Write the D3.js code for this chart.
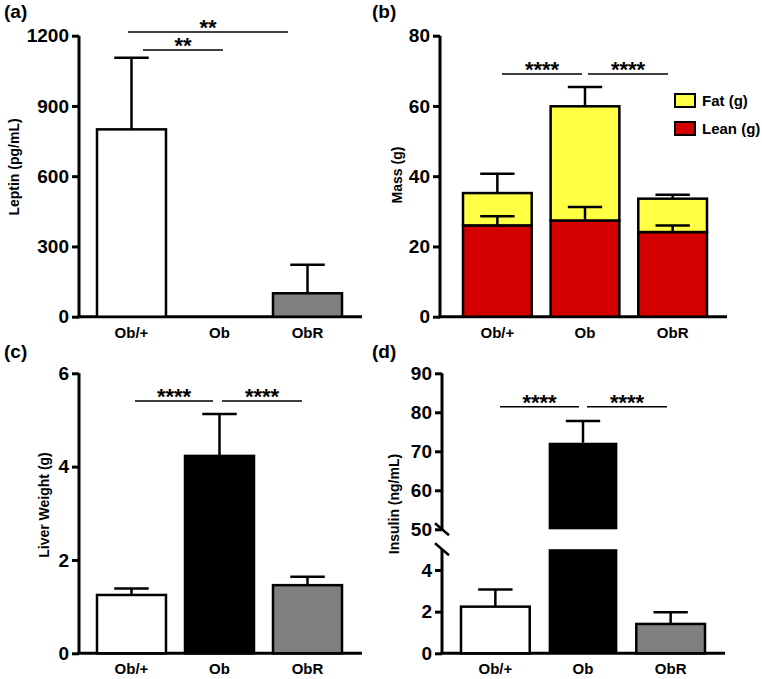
<!DOCTYPE html>
<html>
<head>
<meta charset="utf-8">
<script src="https://cdn.jsdelivr.net/npm/d3@7"></script>
<style>
  html, body { margin: 0; padding: 0; background: #fff; }
  svg { display: block; }
  text { font-family: "Liberation Sans", Arial, sans-serif; font-weight: bold; fill: #000; }
</style>
</head>
<body>
<svg id="chart" width="762" height="679"></svg>
<script>
// ---------------- DATA ----------------
const categories = ["Ob/+", "Ob", "ObR"];
const barFills = ["#ffffff", "#000000", "#808080"];

// (a) Leptin
const leptinMean = [800, 0, 100];
const leptinErr = [306, 0, 122];
const leptinTicks = [0, 300, 600, 900, 1200];

// (b) Mass (stacked)
const leanMean = [26.0, 27.4, 24.1];
const leanErr = [2.6, 3.8, 1.9];
const fatMean = [9.2, 32.5, 9.5];
const fatErr = [5.5, 5.5, 1.1];
const massTicks = [0, 20, 40, 60, 80];
const massSeries = ["Fat (g)", "Lean (g)"];
const massColors = ["#ffff44", "#d40000"];

// (c) Liver weight
const liverMean = [1.25, 4.23, 1.46];
const liverErr = [0.14, 0.90, 0.18];
const liverTicks = [0, 2, 4, 6];

// (d) Insulin (broken axis)
const insulinMean = [2.24, 72.2, 1.41];
const insulinErr = [0.83, 5.6, 0.56];
const insulinTicksLow = [0, 2, 4];
const insulinTicksHigh = [50, 60, 70, 80, 90];

// ---------------- DRAW ----------------
const svg = d3.select("#chart");
const AXW = 3;

function styleAxis(g) {
  g.select(".domain").remove();
  g.selectAll(".tick line").attr("stroke", "#000").attr("stroke-width", AXW);
  g.selectAll(".tick text").style("font-size", "19px").attr("fill", "#000");
}

function panel(opt) {
  const g = svg.append("g");
  const x = d3.scaleBand().domain(categories).range(opt.xr).paddingInner(0.216).paddingOuter(0);
  opt.yScales.forEach((s, i) => {
    g.append("g").attr("transform", `translate(${opt.ax},0)`)
      .call(d3.axisLeft(s.scale).tickValues(s.ticks).tickFormat(d3.format("d"))
        .tickSize(7).tickPadding(3).tickSizeOuter(0))
      .call(styleAxis);
    const r = s.scale.range();
    g.append("line").attr("x1", opt.ax).attr("x2", opt.ax)
      .attr("y1", r[0]).attr("y2", r[1])
      .attr("stroke", "#000").attr("stroke-width", AXW);
  });
  // x axis
  g.append("line").attr("x1", opt.ax - AXW / 2).attr("x2", opt.axEnd)
    .attr("y1", opt.y0).attr("y2", opt.y0).attr("stroke", "#000").attr("stroke-width", AXW);
  // x labels
  g.selectAll(".xl").data(categories).join("text")
    .attr("x", d => x(d) + x.bandwidth() / 2).attr("y", opt.y0 + 21)
    .attr("text-anchor", "middle").style("font-size", "15px").text(d => d);
  // y title
  g.append("text").attr("transform", `translate(${opt.tx},${opt.ty}) rotate(-90)`)
    .attr("text-anchor", "middle").attr("dy", "0.35em").style("font-size", "14px").text(opt.title);
  // panel label
  g.append("text").attr("x", opt.lx).attr("y", opt.ly).style("font-size", "19px").text(opt.label);
  // significance
  opt.sig.forEach(s => {
    g.append("line").attr("x1", s.x1).attr("x2", s.x2).attr("y1", s.y).attr("y2", s.y)
      .attr("stroke", "#000").attr("stroke-width", 1.5);
    g.append("text").attr("x", (s.x1 + s.x2) / 2).attr("y", s.y + 3)
      .attr("text-anchor", "middle").style("font-size", "22px").text(s.t);
  });
  return { g, x };
}

function errBar(g, cx, yBase, yTop, half) {
  g.append("line").attr("x1", cx).attr("x2", cx).attr("y1", yBase).attr("y2", yTop)
    .attr("stroke", "#000").attr("stroke-width", 2.5);
  g.append("line").attr("x1", cx - half).attr("x2", cx + half).attr("y1", yTop).attr("y2", yTop)
    .attr("stroke", "#000").attr("stroke-width", 2.5);
}

function simpleBars(p, y, mean, err) {
  const { g, x } = p;
  const bw = x.bandwidth();
  categories.forEach((c, i) => {
    if (err[i] > 0) errBar(g, x(c) + bw / 2, y(mean[i]), y(mean[i] + err[i]), bw / 4);
  });
  g.selectAll(".bar").data(categories).join("rect")
    .attr("x", d => x(d)).attr("width", bw)
    .attr("y", (d, i) => y(mean[i])).attr("height", (d, i) => y(0) - y(mean[i]))
    .attr("fill", (d, i) => barFills[i]).attr("stroke", "#000").attr("stroke-width", 2.5)
    .attr("display", (d, i) => mean[i] > 0 ? null : "none");
}

// ---- (a)
{
  const y = d3.scaleLinear().domain([0, 1200]).range([316.7, 35.7]);
  const p = panel({ xr: [97, 342], ax: 79, axEnd: 362, y0: 316.7,
    yScales: [{ scale: y, ticks: leptinTicks }],
    title: "Leptin (pg/mL)", tx: 14, ty: 167, label: "(a)", lx: 4, ly: 18,
    sig: [{ x1: 128, x2: 288, y: 32, t: "**" }, { x1: 143, x2: 223, y: 50, t: "**" }] });
  simpleBars(p, y, leptinMean, leptinErr);
}

// ---- (b)
{
  const y = d3.scaleLinear().domain([0, 80]).range([316.7, 35.7]);
  const p = panel({ xr: [463, 707], ax: 440, axEnd: 727, y0: 316.7,
    yScales: [{ scale: y, ticks: massTicks }],
    title: "Mass (g)", tx: 397, ty: 175, label: "(b)", lx: 372, ly: 18,
    sig: [{ x1: 502, x2: 582, y: 74, t: "****" }, { x1: 588, x2: 668, y: 74, t: "****" }] });
  const { g, x } = p;
  const bw = x.bandwidth();
  const stackData = categories.map((c, i) => ({ cat: c, lean: leanMean[i], fat: fatMean[i] }));
  const stack = d3.stack().keys(["lean", "fat"])(stackData);
  categories.forEach((c, i) => {
    errBar(g, x(c) + bw / 2, y(leanMean[i] + fatMean[i]), y(leanMean[i] + fatMean[i] + fatErr[i]), bw / 4);
  });
  stack.forEach((layer, li) => {
    g.selectAll(".s" + li).data(layer).join("rect")
      .attr("x", d => x(d.data.cat)).attr("width", bw)
      .attr("y", d => y(d[1])).attr("height", d => y(d[0]) - y(d[1]))
      .attr("fill", li === 0 ? massColors[1] : massColors[0])
      .attr("stroke", "#000").attr("stroke-width", 2.5);
  });
  categories.forEach((c, i) => {
    errBar(g, x(c) + bw / 2, y(leanMean[i]), y(leanMean[i] + leanErr[i]), bw / 4);
  });
  // legend
  const lg = g.append("g");
  massSeries.forEach((s, i) => {
    lg.append("rect").attr("x", 675).attr("y", 94 + i * 28).attr("width", 20).attr("height", 13)
      .attr("fill", massColors[i]).attr("stroke", "#000").attr("stroke-width", 2);
    lg.append("text").attr("x", 702).attr("y", 94 + i * 28 + 6.5).attr("dy", "0.36em")
      .style("font-size", "15px").text(s);
  });
}

// ---- (c)
{
  const y = d3.scaleLinear().domain([0, 6]).range([653.3, 373.3]);
  const p = panel({ xr: [97, 342], ax: 79, axEnd: 362, y0: 653.3,
    yScales: [{ scale: y, ticks: liverTicks }],
    title: "Liver Weight (g)", tx: 44, ty: 505, label: "(c)", lx: 4, ly: 358,
    sig: [{ x1: 135, x2: 213, y: 401, t: "****" }, { x1: 222, x2: 302, y: 401, t: "****" }] });
  simpleBars(p, y, liverMean, liverErr);
}

// ---- (d)
{
  const yLow = d3.scaleLinear().domain([0, 5]).range([653.3, 549.2]);
  const yHigh = d3.scaleLinear().domain([50, 90]).range([529.3, 373.3]);
  const p = panel({ xr: [461, 705], ax: 442, axEnd: 725, y0: 653.3,
    yScales: [{ scale: yLow, ticks: insulinTicksLow }, { scale: yHigh, ticks: insulinTicksHigh }],
    title: "Insulin (ng/mL)", tx: 394, ty: 504, label: "(d)", lx: 372, ly: 358,
    sig: [{ x1: 500, x2: 579, y: 406.7, t: "****" }, { x1: 587, x2: 667, y: 406.7, t: "****" }] });
  const { g, x } = p;
  const bw = x.bandwidth();
  const yv = v => (v >= 50 ? yHigh(v) : yLow(v));
  categories.forEach((c, i) => {
    errBar(g, x(c) + bw / 2, yv(insulinMean[i]), yv(insulinMean[i] + insulinErr[i]), bw / 4);
  });
  categories.forEach((c, i) => {
    const m = insulinMean[i];
    if (m > 5) {
      g.append("rect").attr("x", x(c)).attr("width", bw)
        .attr("y", yLow(5)).attr("height", yLow(0) - yLow(5))
        .attr("fill", barFills[i]).attr("stroke", "none");
      g.append("rect").attr("x", x(c)).attr("width", bw)
        .attr("y", yHigh(m)).attr("height", yHigh(50) - yHigh(m))
        .attr("fill", barFills[i]).attr("stroke", "none");
    } else {
      g.append("rect").attr("x", x(c)).attr("width", bw)
        .attr("y", yLow(m)).attr("height", yLow(0) - yLow(m))
        .attr("fill", barFills[i]).attr("stroke", "#000").attr("stroke-width", 2.5);
    }
  });
  // axis break marks
  const ax = 442;
  [yHigh(50), yLow(5)].forEach(yy => {
    g.append("line").attr("x1", ax - 7).attr("x2", ax + 7).attr("y1", yy - 6).attr("y2", yy + 6)
      .attr("stroke", "#000").attr("stroke-width", 2.5);
  });
}
</script>
</body>
</html>
